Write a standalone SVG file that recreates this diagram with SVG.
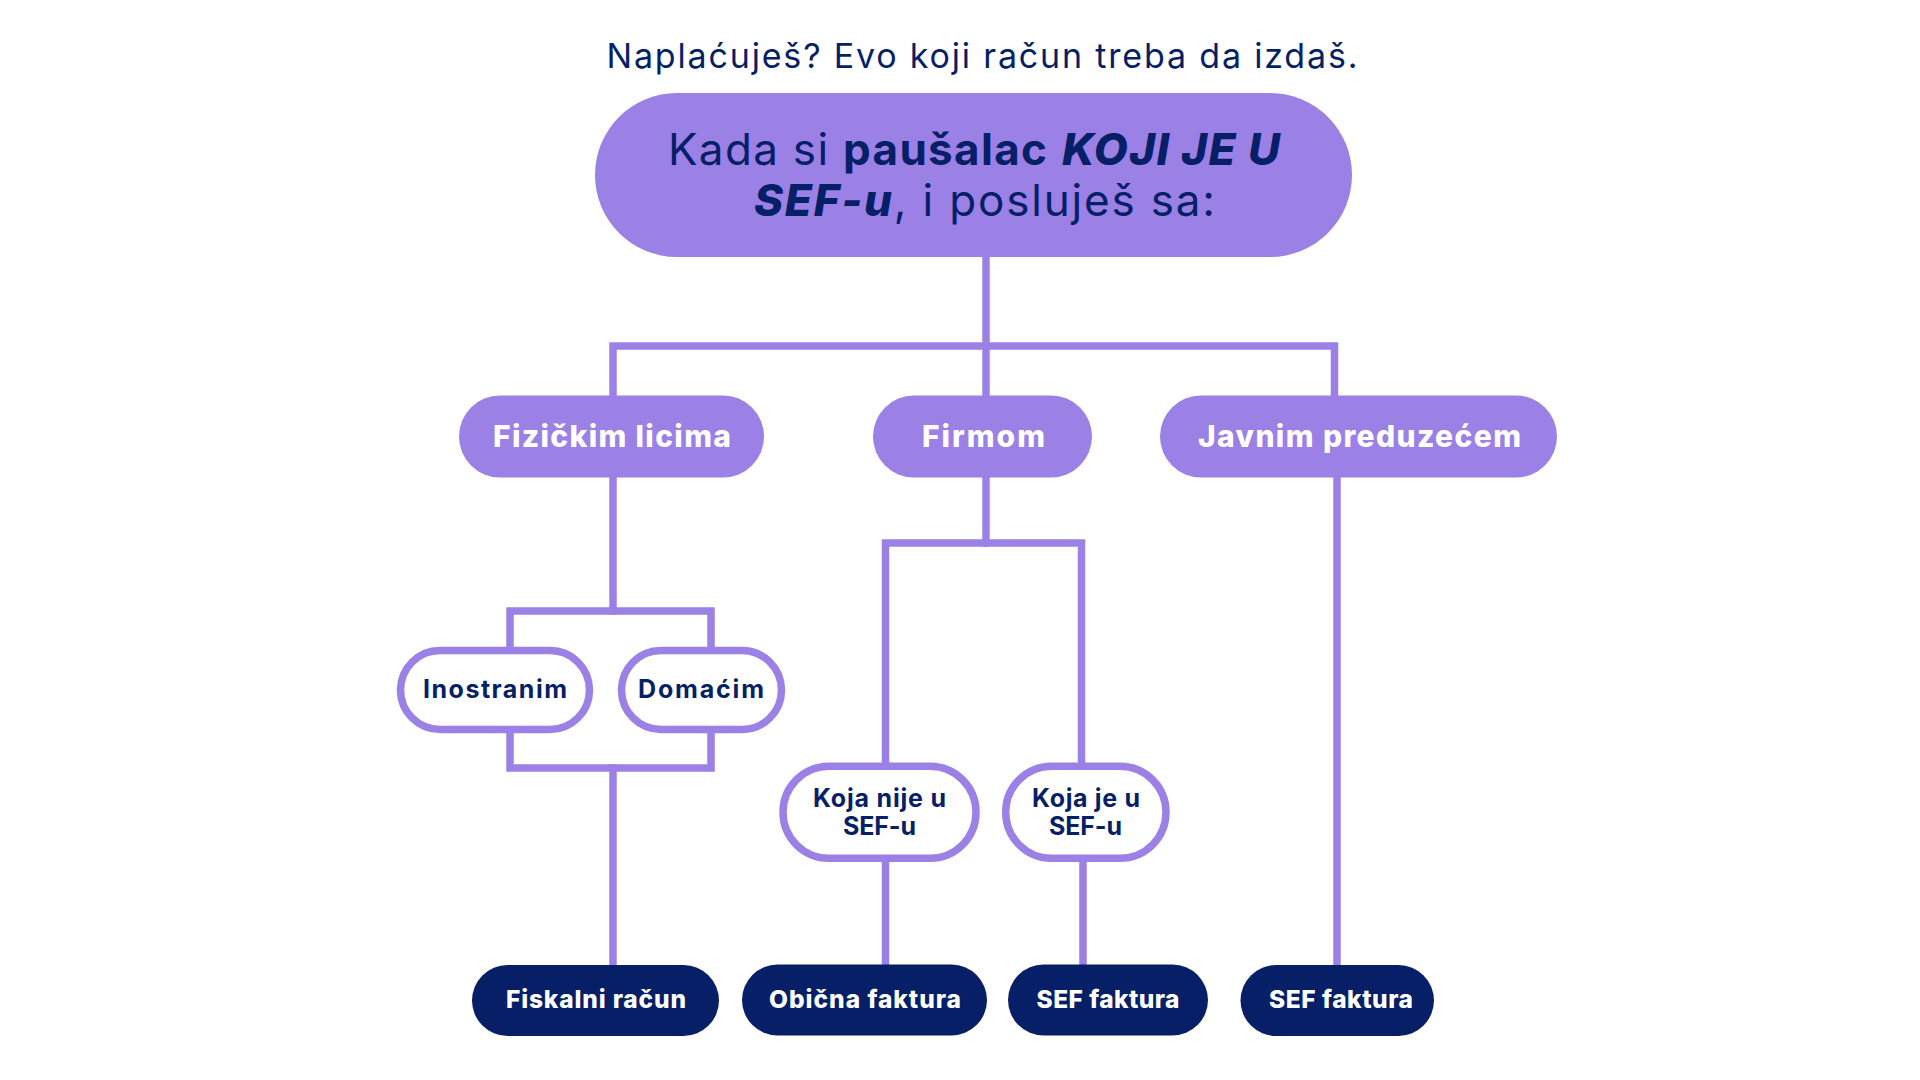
<svg xmlns="http://www.w3.org/2000/svg" width="1920" height="1080" viewBox="0 0 1920 1080">
<style>
.bg{fill:#ffffff}
.ln{fill:none;stroke:#9b80e6;stroke-width:7.5;stroke-linecap:square;stroke-linejoin:miter}
.pur{fill:#9b80e6}
.out{fill:#ffffff;stroke:#9b80e6;stroke-width:7.5}
.dk{fill:#061f66}
text{font-family:Inter,"Open Sans",sans-serif;text-anchor:middle}
.title{font-size:34px;fill:#061f66;font-weight:400}
.head{font-size:44px;fill:#061f66;font-weight:400}
.b{font-weight:700}
.bi{font-weight:800;font-style:italic}
.wl{font-size:30px;fill:#ffffff;font-weight:800}
.nl{font-size:25px;fill:#061f66;font-weight:700}
.wb{font-size:24.5px;fill:#ffffff;font-weight:800}
</style>
<rect class="bg" x="0" y="0" width="1920" height="1080"/>
<text class="title" x="982" y="68" textLength="751">Naplaćuješ? Evo koji račun treba da izdaš.</text>
<g id="connectors">
<path class="ln" d="M986,257 V395"/>
<path class="ln" d="M613,395 V346 H1334.5 V395"/>
<path class="ln" d="M613,478 V611"/>
<path class="ln" d="M510,647 V611 H711 V647"/>
<path class="ln" d="M510,733 V768 H711 V733"/>
<path class="ln" d="M613,768 V965"/>
<path class="ln" d="M986,478 V543"/>
<path class="ln" d="M885.5,763 V543 H1081.5 V763"/>
<path class="ln" d="M885.5,862 V964"/>
<path class="ln" d="M1083,862 V964"/>
<path class="ln" d="M1337,478 V965"/>
</g>
<g id="node-root">
<rect class="pur" x="595" y="93" width="757" height="164" rx="82"/>
<text class="head" x="974" y="165" textLength="612">Kada si <tspan class="b">paušalac</tspan> <tspan class="bi">KOJI JE U</tspan></text>
<text class="head" x="984.5" y="216" textLength="461"><tspan class="bi">SEF-u</tspan>, i posluješ sa:</text>
</g>
<g id="node-fizicka">
<rect class="pur" x="459" y="395.5" width="305" height="82" rx="41"/>
<text class="wl" x="612" y="447" textLength="238">Fizičkim licima</text>
</g>
<g id="node-firmom">
<rect class="pur" x="873" y="395.5" width="219" height="82" rx="41"/>
<text class="wl" x="983.5" y="447" textLength="123">Firmom</text>
</g>
<g id="node-javnim">
<rect class="pur" x="1160" y="395.5" width="397" height="82" rx="41"/>
<text class="wl" x="1359.5" y="447" textLength="323">Javnim preduzećem</text>
</g>
<g id="node-inostranim">
<rect class="out" x="400.5" y="650.5" width="189" height="79" rx="39.5"/>
<text class="nl" x="495" y="698" textLength="144">Inostranim</text>
</g>
<g id="node-domacim">
<rect class="out" x="621.5" y="650.5" width="160" height="79" rx="39.5"/>
<text class="nl" x="701" y="698" textLength="126">Domaćim</text>
</g>
<g id="node-nije-sef">
<rect class="out" x="783" y="766.3" width="193" height="92" rx="46"/>
<text class="nl" x="879.5" y="807" textLength="133">Koja nije u</text>
<text class="nl" x="879.5" y="835" textLength="73">SEF-u</text>
</g>
<g id="node-je-sef">
<rect class="out" x="1005.7" y="766.3" width="160.3" height="92" rx="46"/>
<text class="nl" x="1086" y="807" textLength="108">Koja je u</text>
<text class="nl" x="1085.5" y="835" textLength="73">SEF-u</text>
</g>
<g id="node-fiskalni">
<rect class="dk" x="472" y="965" width="247" height="71" rx="35.5"/>
<text class="wb" x="596" y="1008" textLength="180">Fiskalni račun</text>
</g>
<g id="node-obicna">
<rect class="dk" x="742" y="964.5" width="245" height="71" rx="35.5"/>
<text class="wb" x="865" y="1007.5" textLength="192">Obična faktura</text>
</g>
<g id="node-sef1">
<rect class="dk" x="1008" y="964.5" width="200" height="71" rx="35.5"/>
<text class="wb" x="1108" y="1007.5" textLength="143">SEF faktura</text>
</g>
<g id="node-sef2">
<rect class="dk" x="1240.5" y="965" width="193.5" height="71" rx="35.5"/>
<text class="wb" x="1341" y="1008" textLength="144">SEF faktura</text>
</g>
</svg>
